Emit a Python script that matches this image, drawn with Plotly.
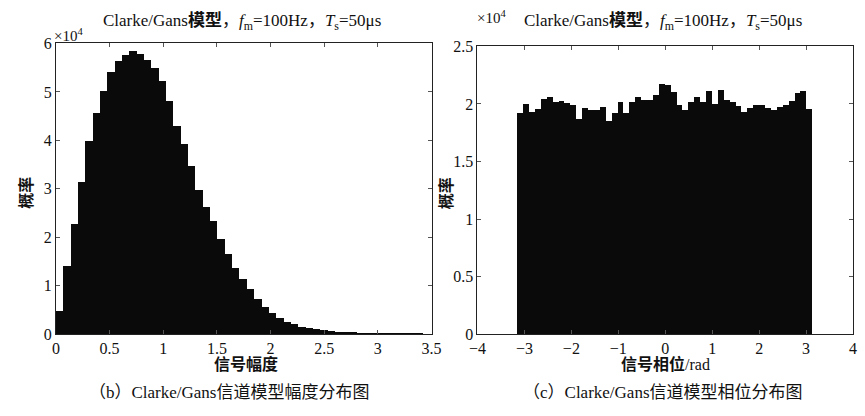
import math
import plotly.graph_objects as go

# ---- data ----
# amplitude histogram (counts in units of 1e4), 50 bins starting at 0
amp_bin_start = 0.0
amp_bin_width = 0.0684
amp_counts_1e4 = [0.476, 1.40, 2.26, 3.14, 3.97, 4.56, 5.01, 5.41, 5.62, 5.76,
                  5.84, 5.78, 5.65, 5.49, 5.22, 4.81, 4.28, 3.92, 3.46, 2.97,
                  2.61, 2.33, 1.96, 1.65, 1.35, 1.12, 0.925, 0.71, 0.54, 0.43,
                  0.33, 0.25, 0.20, 0.13, 0.11, 0.10, 0.08, 0.05, 0.04, 0.03,
                  0.02, 0.01, 0.005, 0.003, 0.002, 0.001, 0.001, 0.0005, 0.0003, 0.0002]
# phase histogram (counts in units of 1e4), 50 bins over [-pi, pi]
ph_bin_start = -math.pi
ph_bin_width = 2 * math.pi / 50
ph_counts_1e4 = [1.917, 2.00, 1.925, 1.95, 2.04, 2.06, 2.01, 2.02, 2.005, 1.99,
                 1.87, 1.96, 1.945, 1.94, 1.97, 1.85, 1.92, 2.01, 1.92, 2.01,
                 2.06, 2.03, 2.03, 2.07, 2.17, 2.16, 2.10, 1.99, 1.94, 2.01,
                 2.06, 2.01, 2.11, 2.00, 2.12, 2.03, 2.01, 1.98, 1.93, 1.96,
                 1.99, 1.99, 1.96, 1.94, 1.97, 1.99, 2.02, 2.09, 2.11, 1.95]

amp_xticks = [0, 0.5, 1, 1.5, 2, 2.5, 3, 3.5]
amp_yticks = [0, 1, 2, 3, 4, 5, 6]
ph_xticks = [-4, -3, -2, -1, 0, 1, 2, 3, 4]
ph_yticks = [0, 0.5, 1, 1.5, 2, 2.5]

title_txt = "Clarke/Gans<b>模型</b>，<i>f</i><sub>m</sub>=100Hz，<i>T</i><sub>s</sub>=50μs"
ylabel = "<b>概率</b>"
amp_xlabel = "<b>信号幅度</b>"
ph_xlabel = "<b>信号相位</b>/rad"
cap_b = "（b）Clarke/Gans信道模型幅度分布图"
cap_c = "（c）Clarke/Gans信道模型相位分布图"

amp_x = [amp_bin_start + (i + 0.5) * amp_bin_width for i in range(len(amp_counts_1e4))]
ph_x = [ph_bin_start + (i + 0.5) * ph_bin_width for i in range(len(ph_counts_1e4))]

W, H = 865, 416
FONT = "Liberation Serif, Noto Sans CJK SC, serif"

fig = go.Figure()
fig.add_trace(go.Bar(x=amp_x, y=amp_counts_1e4, width=amp_bin_width,
                     marker=dict(color="#0a0a0a", line=dict(width=0)),
                     xaxis="x", yaxis="y", showlegend=False))
fig.add_trace(go.Bar(x=ph_x, y=ph_counts_1e4, width=ph_bin_width,
                     marker=dict(color="#0a0a0a", line=dict(width=0)),
                     xaxis="x2", yaxis="y2", showlegend=False))

def px(x):
    return x / W

def py(y):
    return 1 - y / H

ax_common = dict(showgrid=False, zeroline=False, showline=True, linecolor="#222",
                 linewidth=1, mirror="ticks", ticks="inside", ticklen=4,
                 tickcolor="#555", tickfont=dict(family=FONT, size=16, color="#111"))

fig.update_layout(
    width=W, height=H, margin=dict(l=0, r=0, t=0, b=0),
    paper_bgcolor="white", plot_bgcolor="white", bargap=0,
    font=dict(family=FONT, color="#111"),
    xaxis=dict(domain=[px(48), px(432)], range=[0, 3.5], tickvals=amp_xticks,
               ticktext=[str(v) for v in amp_xticks], anchor="y", **ax_common),
    yaxis=dict(domain=[py(340), py(37)], range=[0, 6], tickvals=amp_yticks,
               anchor="x", **ax_common),
    xaxis2=dict(domain=[px(479), px(863)], range=[-4, 4], tickvals=ph_xticks,
                ticktext=[("−" + str(-v)) if v < 0 else str(v) for v in ph_xticks],
                anchor="y2", **ax_common),
    yaxis2=dict(domain=[py(340), py(40)], range=[0, 2.5], tickvals=ph_yticks,
                ticktext=[str(v) for v in ph_yticks], anchor="x2", **ax_common),
)

ann = []
def add_text(x, y, text, size=14, angle=0, xanchor="center"):
    ann.append(dict(x=px(x), y=py(y), xref="paper", yref="paper", text=text,
                    showarrow=False, xanchor=xanchor, yanchor="middle",
                    textangle=angle, font=dict(family=FONT, size=size, color="#111")))

add_text(238, 15, title_txt, size=17)
add_text(669, 15, title_txt, size=17)
add_text(44, 28, "×10<sup>4</sup>", size=15, xanchor="left")
add_text(476, 9, "×10<sup>4</sup>", size=15, xanchor="left")
add_text(17, 193, ylabel, size=16, angle=-90)
add_text(447, 193, ylabel, size=16, angle=-90)
add_text(242, 371, amp_xlabel, size=16)
add_text(671, 371, ph_xlabel, size=16)
add_text(80, 401, cap_b, size=17, xanchor="left")
add_text(524, 401, cap_c, size=17, xanchor="left")
fig.update_layout(annotations=ann)

fig.write_html("out.html")
